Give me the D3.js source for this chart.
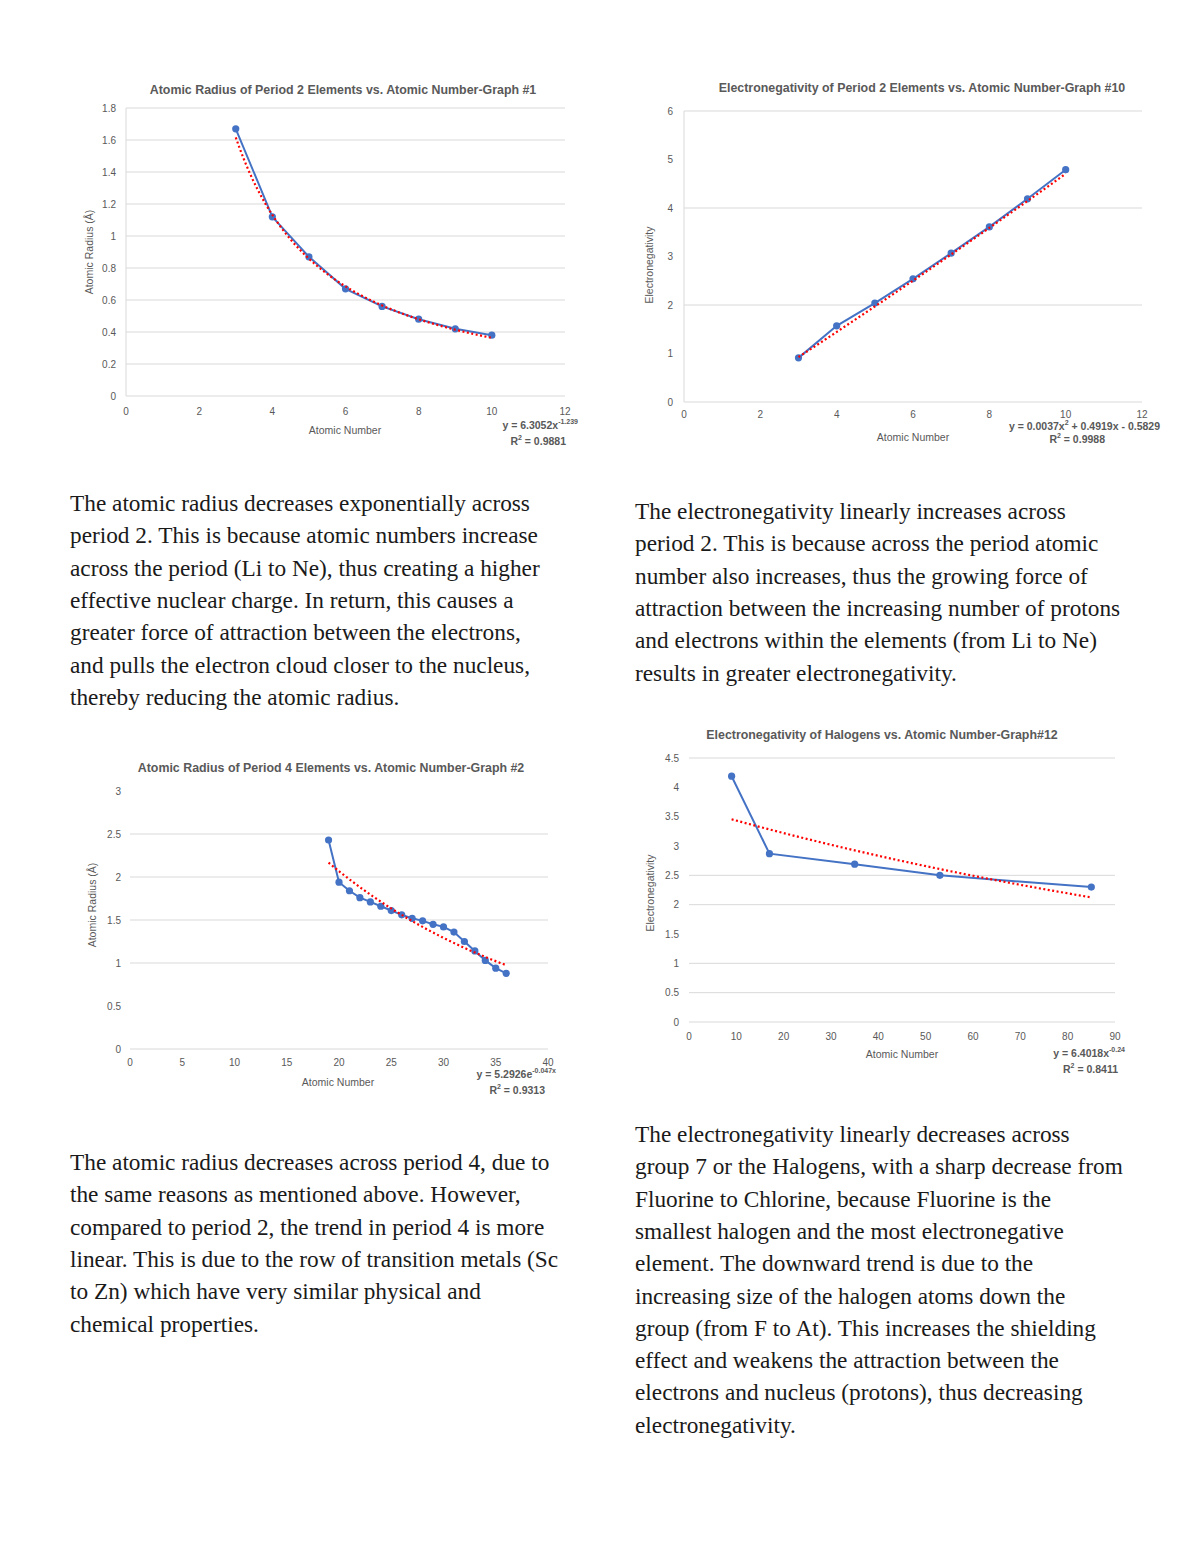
<!DOCTYPE html>
<meta charset="utf-8">
<style>
body { margin: 0; background: #fff; }
.title { fill: #595959; font-family: "Liberation Sans", Arial, sans-serif; font-weight: bold; font-size: 12.4px; }
.tick { fill: #595959; font-family: "Liberation Sans", Arial, sans-serif; font-size: 10px; }
.axlabel { fill: #595959; font-family: "Liberation Sans", Arial, sans-serif; font-size: 10.5px; }
.eq { fill: #595959; font-family: "Liberation Sans", Arial, sans-serif; font-size: 10.5px; font-weight: bold; }
.para { fill: #1a1a1a; font-family: "Liberation Serif", "DejaVu Serif", serif; font-size: 23.3px; }
</style>
<body>
<svg width="1200" height="1553" id="page"></svg>
<script src="https://d3js.org/d3.v7.min.js"></script>
<script>

// ---- data ----
var p2Numbers = [3, 4, 5, 6, 7, 8, 9, 10];
var p2Radius = [1.67, 1.12, 0.87, 0.67, 0.56, 0.48, 0.42, 0.38];
var p2Electroneg = [0.91, 1.57, 2.04, 2.54, 3.07, 3.61, 4.19, 4.79];
var p4Numbers = [19, 20, 21, 22, 23, 24, 25, 26, 27, 28, 29, 30, 31, 32, 33, 34, 35, 36];
var p4Radius = [2.43, 1.94, 1.84, 1.76, 1.71, 1.66, 1.61, 1.56, 1.52, 1.49, 1.45, 1.42, 1.36, 1.25, 1.14, 1.03, 0.94, 0.88];
var halNumbers = [9, 17, 35, 53, 85];
var halElectroneg = [4.19, 2.87, 2.69, 2.5, 2.3];

// trendline coefficients
var trend1 = [6.3052, -1.239];          // power  a*x^b
var trend2 = [0.0037, 0.4919, -0.5829]; // poly   a*x^2+b*x+c
var trend3 = [5.2926, -0.047];          // exp    a*e^(b*x)
var trend4 = [3.66, -0.0064];           // exp    (as drawn)

var xTicks12 = [0, 2, 4, 6, 8, 10, 12];
var xTicks40 = [0, 5, 10, 15, 20, 25, 30, 35, 40];
var xTicks90 = [0, 10, 20, 30, 40, 50, 60, 70, 80, 90];
var yTicks1 = [0, 0.2, 0.4, 0.6, 0.8, 1, 1.2, 1.4, 1.6, 1.8];
var yTicks2 = [0, 1, 2, 3, 4, 5, 6];
var yTicks3 = [0, 0.5, 1, 1.5, 2, 2.5, 3];
var yTicks4 = [0, 0.5, 1, 1.5, 2, 2.5, 3, 3.5, 4, 4.5];

var paragraphs = [
  { x: 70, y: 511, lines: [
    "The atomic radius decreases exponentially across",
    "period 2. This is because atomic numbers increase",
    "across the period (Li to Ne), thus creating a higher",
    "effective nuclear charge. In return, this causes a",
    "greater force of attraction between the electrons,",
    "and pulls the electron cloud closer to the nucleus,",
    "thereby reducing the atomic radius."]},
  { x: 635, y: 519, lines: [
    "The electronegativity linearly increases across",
    "period 2. This is because across the period atomic",
    "number also increases, thus the growing force of",
    "attraction between the increasing number of protons",
    "and electrons within the elements (from Li to Ne)",
    "results in greater electronegativity."]},
  { x: 70, y: 1170, lines: [
    "The atomic radius decreases across period 4, due to",
    "the same reasons as mentioned above. However,",
    "compared to period 2, the trend in period 4 is more",
    "linear. This is due to the row of transition metals (Sc",
    "to Zn) which have very similar physical and",
    "chemical properties."]},
  { x: 635, y: 1142, lines: [
    "The electronegativity linearly decreases across",
    "group 7 or the Halogens, with a sharp decrease from",
    "Fluorine to Chlorine, because Fluorine is the",
    "smallest halogen and the most electronegative",
    "element. The downward trend is due to the",
    "increasing size of the halogen atoms down the",
    "group (from F to At). This increases the shielding",
    "effect and weakens the attraction between the",
    "electrons and nucleus (protons), thus decreasing",
    "electronegativity."]}
];

var svg = d3.select("#page");

function drawChart(c) {
  var x = d3.scaleLinear().domain(c.xDomain).range([c.left, c.right]);
  var y = d3.scaleLinear().domain(c.yDomain).range([c.bottom, c.top]);
  var g = svg.append("g");

  g.append("text").attr("class", "title")
    .attr("x", c.titleX).attr("y", c.titleY)
    .attr("text-anchor", "middle").text(c.title);

  // gridlines
  g.selectAll(".grid").data(c.grid).enter().append("line")
    .attr("x1", c.left).attr("x2", c.right)
    .attr("y1", function(d) { return y(d); })
    .attr("y2", function(d) { return y(d); })
    .attr("stroke", "#d9d9d9").attr("stroke-width", 1);
  if (c.leftLine) {
    g.append("line").attr("x1", c.left).attr("x2", c.left)
      .attr("y1", c.top).attr("y2", c.bottom)
      .attr("stroke", "#d9d9d9").attr("stroke-width", 1);
  }

  // tick labels
  g.selectAll(".yt").data(c.yTicks).enter().append("text")
    .attr("class", "tick").attr("text-anchor", "end")
    .attr("x", c.yTickX).attr("y", function(d) { return y(d) + 3.5; })
    .text(function(d) { return d; });
  g.selectAll(".xt").data(c.xTicks).enter().append("text")
    .attr("class", "tick").attr("text-anchor", "middle")
    .attr("x", function(d) { return x(d); }).attr("y", c.xTickY)
    .text(function(d) { return d; });

  g.append("text").attr("class", "axlabel").attr("text-anchor", "middle")
    .attr("x", c.xLabelX).attr("y", c.xLabelY).text("Atomic Number");
  g.append("text").attr("class", "axlabel").attr("text-anchor", "middle")
    .attr("transform", "translate(" + c.yLabelX + "," + c.yLabelY + ") rotate(-90)")
    .text(c.yLabel);

  var pts = c.xs.map(function(d, i) { return [d, c.ys[i]]; });

  // trendline
  var x0 = d3.min(c.xs), x1 = d3.max(c.xs);
  var tpts = d3.range(0, 61).map(function(i) {
    var xv = x0 + (x1 - x0) * i / 60;
    return [xv, c.trend(xv)];
  });
  var line = d3.line().x(function(d) { return x(d[0]); }).y(function(d) { return y(d[1]); });

  g.append("path").datum(pts).attr("d", line)
    .attr("fill", "none").attr("stroke", "#4472c4").attr("stroke-width", 2);
  g.selectAll(".pt").data(pts).enter().append("circle")
    .attr("cx", function(d) { return x(d[0]); })
    .attr("cy", function(d) { return y(d[1]); })
    .attr("r", 3.6).attr("fill", "#4472c4");
  g.append("path").datum(tpts).attr("d", line)
    .attr("fill", "none").attr("stroke", "#ff0000").attr("stroke-width", 2.2)
    .attr("stroke-dasharray", "2,2.5");

  // equation
  var eq = g.append("text").attr("class", "eq").attr("text-anchor", "end")
    .attr("x", c.eqX).attr("y", c.eqY);
  eq.append("tspan").text(c.eq[0]);
  if (c.eq[1]) eq.append("tspan").attr("dy", -5).attr("font-size", "7px").text(c.eq[1]);
  if (c.eq[2]) eq.append("tspan").attr("dy", 5).text(c.eq[2]);
  var r2 = g.append("text").attr("class", "eq").attr("text-anchor", "end")
    .attr("x", c.r2X).attr("y", c.eqY + c.r2Gap);
  r2.append("tspan").text("R");
  r2.append("tspan").attr("dy", -5).attr("font-size", "7px").text("2");
  r2.append("tspan").attr("dy", 5).text(" = " + c.r2);
}

drawChart({
  title: "Atomic Radius of Period 2 Elements vs. Atomic Number-Graph #1",
  titleX: 343, titleY: 94,
  left: 126, right: 565, top: 108, bottom: 396,
  xDomain: [0, 12], yDomain: [0, 1.8],
  xTicks: xTicks12, yTicks: yTicks1, grid: yTicks1, leftLine: true,
  yTickX: 116, xTickY: 415,
  xLabelX: 345, xLabelY: 434, yLabelX: 93, yLabelY: 252,
  yLabel: "Atomic Radius (Å)",
  xs: p2Numbers, ys: p2Radius,
  trend: function(v) { return trend1[0] * Math.pow(v, trend1[1]); },
  eq: ["y = 6.3052x", "-1.239"], eqX: 578, eqY: 429, r2X: 566, r2Gap: 16, r2: "0.9881"
});

drawChart({
  title: "Electronegativity of Period 2 Elements vs. Atomic Number-Graph #10",
  titleX: 922, titleY: 92,
  left: 684, right: 1142, top: 111, bottom: 402,
  xDomain: [0, 12], yDomain: [0, 6],
  xTicks: xTicks12, yTicks: yTicks2, grid: [0, 2, 4, 6], leftLine: true,
  yTickX: 673, xTickY: 418,
  xLabelX: 913, xLabelY: 441, yLabelX: 653, yLabelY: 265,
  yLabel: "Electronegativity",
  xs: p2Numbers, ys: p2Electroneg,
  trend: function(v) { return trend2[0] * v * v + trend2[1] * v + trend2[2]; },
  eq: ["y = 0.0037x", "2", " + 0.4919x - 0.5829"], eqX: 1160, eqY: 430, r2X: 1105, r2Gap: 13, r2: "0.9988"
});

drawChart({
  title: "Atomic Radius of Period 4 Elements vs. Atomic Number-Graph #2",
  titleX: 331, titleY: 772,
  left: 130, right: 548, top: 791, bottom: 1049,
  xDomain: [0, 40], yDomain: [0, 3],
  xTicks: xTicks40, yTicks: yTicks3, grid: [0, 1, 1.5, 2, 2.5], leftLine: false,
  yTickX: 121, xTickY: 1066,
  xLabelX: 338, xLabelY: 1086, yLabelX: 96, yLabelY: 905,
  yLabel: "Atomic Radius (Å)",
  xs: p4Numbers, ys: p4Radius,
  trend: function(v) { return trend3[0] * Math.exp(trend3[1] * v); },
  eq: ["y = 5.2926e", "-0.047x"], eqX: 556, eqY: 1078, r2X: 545, r2Gap: 16, r2: "0.9313"
});

drawChart({
  title: "Electronegativity of Halogens vs. Atomic Number-Graph#12",
  titleX: 882, titleY: 739,
  left: 689, right: 1115, top: 758, bottom: 1022,
  xDomain: [0, 90], yDomain: [0, 4.5],
  xTicks: xTicks90, yTicks: yTicks4, grid: [0, 0.5, 1, 2, 2.5, 4.5], leftLine: false,
  yTickX: 679, xTickY: 1040,
  xLabelX: 902, xLabelY: 1058, yLabelX: 654, yLabelY: 893,
  yLabel: "Electronegativity",
  xs: halNumbers, ys: halElectroneg,
  trend: function(v) { return trend4[0] * Math.exp(trend4[1] * v); },
  eq: ["y = 6.4018x", "-0.24"], eqX: 1125, eqY: 1057, r2X: 1118, r2Gap: 16, r2: "0.8411"
});

// paragraphs
paragraphs.forEach(function(p) {
  var t = svg.append("text").attr("class", "para").attr("x", p.x).attr("y", p.y);
  t.selectAll("tspan").data(p.lines).enter().append("tspan")
    .attr("x", p.x)
    .attr("dy", function(d, i) { return i === 0 ? 0 : 32.3; })
    .text(function(d) { return d; });
});

</script>
</body>
